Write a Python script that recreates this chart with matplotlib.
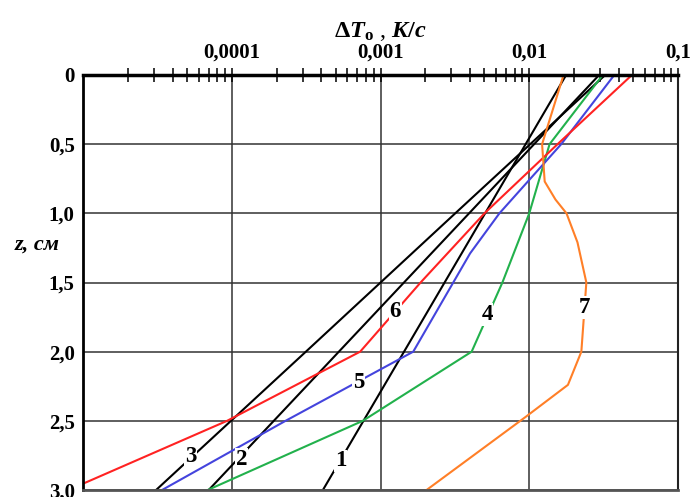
import matplotlib
matplotlib.use("Agg")
import matplotlib.pyplot as plt
from matplotlib.ticker import LogLocator, NullFormatter
import numpy as np

plt.rcParams['font.family'] = ['Liberation Serif', 'DejaVu Serif']
plt.rcParams['mathtext.fontset'] = 'custom'
plt.rcParams['mathtext.rm'] = 'Liberation Serif:bold'
plt.rcParams['mathtext.it'] = 'Liberation Serif:bold:italic'
plt.rcParams['mathtext.bf'] = 'Liberation Serif:bold'

# ---- data ----
z_lines = [0.0, 1.0, 2.0, 3.0]
curve1 = [0.0177, 0.00505, 0.00144, 4.1e-4]
curve2 = [0.0295, 0.00394, 5.25e-4, 7.0e-5]
curve3 = [0.0324, 0.00318, 3.15e-4, 3.1e-5]

z4 = [0.0, 0.5, 1.0, 1.5, 2.0, 2.5, 3.0]
curve4 = [0.0312, 0.0137, 0.0100, 0.0066, 0.0041, 7.6e-4, 6.9e-5]

z5 = [0.0, 0.5, 1.0, 1.29, 2.0, 2.5, 3.0]
curve5 = [0.0373, 0.0164, 0.0063, 0.0040, 0.00166, 2.3e-4, 3.4e-5]

z6 = [0.0, 0.5, 1.0, 1.5, 2.0, 2.5, 3.0]
curve6 = [0.049, 0.0155, 0.0050, 0.00186, 7.3e-4, 9.3e-5, 8.0e-6]

z7 = [0.0, 0.5, 0.77, 0.9, 1.0, 1.21, 1.5, 2.0, 2.24, 2.47, 3.0]
curve7 = [0.017, 0.0122, 0.0127, 0.0150, 0.0178, 0.0211, 0.0242, 0.0224, 0.0182, 0.0095, 0.00204]

curve_labels = ['1', '2', '3', '4', '5', '6', '7']
label_x = [5.4e-4, 1.17e-4, 5.3e-5, 5.2e-3, 7.1e-4, 1.26e-3, 0.0234]
label_z = [2.79, 2.78, 2.76, 1.73, 2.22, 1.71, 1.68]

x_ticks = [1e-4, 1e-3, 1e-2, 1e-1]
x_ticklabels = ['0,0001', '0,001', '0,01', '0,1']
y_ticks = [0, 0.5, 1.0, 1.5, 2.0, 2.5, 3.0]
y_ticklabels = ['0', '0,5', '1,0', '1,5', '2,0', '2,5', '3,0']

# ---- figure ----
fig = plt.figure(figsize=(6.92, 4.97), dpi=100)
ax = fig.add_axes([83/692, 7/497, (678-83)/692, (490-75)/497])

lw = 1.5
ax.plot(curve1, z_lines, color='black', lw=lw)
ax.plot(curve2, z_lines, color='black', lw=lw)
ax.plot(curve3, z_lines, color='black', lw=lw)
ax.plot(curve4, z4, color='#22b14c', lw=lw)
ax.plot(curve5, z5, color='#4444dd', lw=lw)
ax.plot(curve6, z6, color='#ff2222', lw=lw)
ax.plot(curve7, z7, color='#ff7f27', lw=lw)

for t, xv, zv in zip(curve_labels, label_x, label_z):
    ax.text(xv, zv, t, ha='center', va='center', fontsize=16.5, fontweight='bold',
            bbox=dict(facecolor='white', edgecolor='none', pad=0.5), zorder=5)

ax.set_xscale('log')
ax.set_xlim(1e-5, 1e-1)
ax.set_ylim(3.0, 0.0)

ax.xaxis.set_ticks_position('top')
ax.xaxis.set_label_position('top')
ax.set_xticks(x_ticks)
ax.set_xticklabels(x_ticklabels, fontsize=15, fontweight='bold')
ax.xaxis.set_minor_locator(LogLocator(base=10, subs=np.arange(2, 10)))
ax.xaxis.set_minor_formatter(NullFormatter())
ax.tick_params(axis='x', which='both', direction='inout', length=10, width=1.1,
               pad=4, color='black')

ax.set_yticks(y_ticks)
ax.set_yticklabels(y_ticklabels, fontsize=15, fontweight='bold')
ax.tick_params(axis='y', which='both', length=0, pad=6)

ax.grid(True, which='major', color='#333333', lw=1.1)
ax.set_axisbelow(True)

ax.spines['top'].set_linewidth(2.5)
ax.spines['left'].set_linewidth(2.0)
ax.spines['right'].set_linewidth(1.5)
ax.spines['right'].set_color('#222222')
ax.spines['bottom'].set_linewidth(2.0)
ax.spines['bottom'].set_color('#555555')

ax.set_xlabel(r'$\Delta T_{\mathrm{o}}$ , $K/c$', fontsize=17.5, labelpad=4)
fig.text(37/692, 1 - 245/497, 'z, см', fontsize=16, fontweight='bold', fontstyle='italic',
         ha='center', va='center')

fig.savefig('out.png', dpi=100)
